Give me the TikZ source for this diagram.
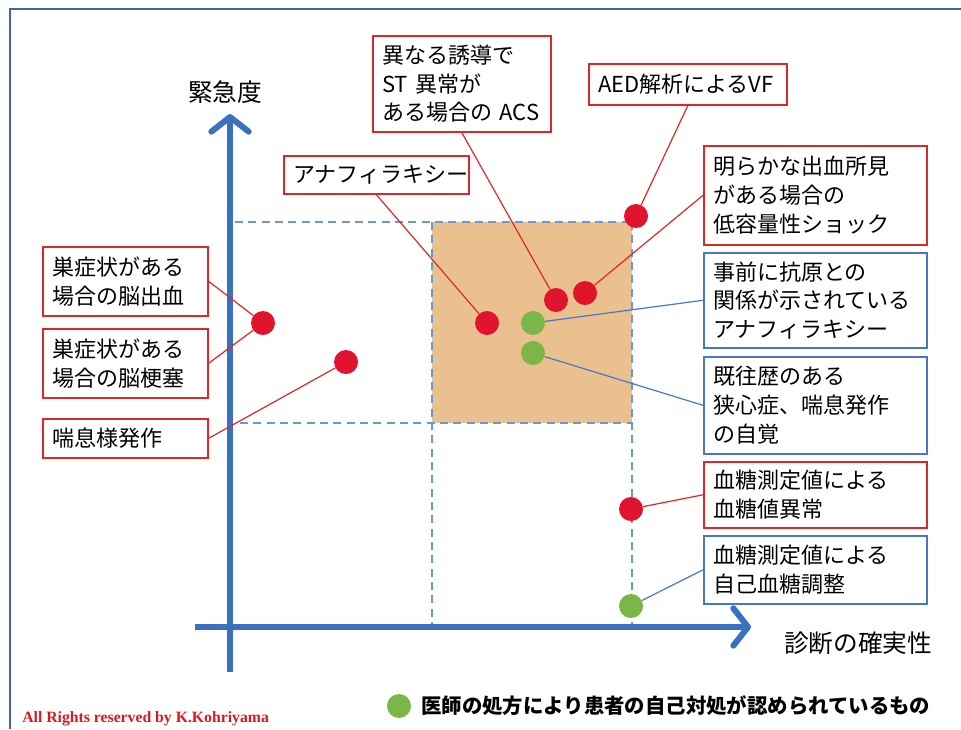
\documentclass[tikz,border=0pt]{standalone}
\usepackage{fontspec}
\setmainfont{Noto Sans CJK JP}
\newfontfamily\latinserif{Liberation Serif}
\usetikzlibrary{arrows.meta}
\definecolor{dotred}{RGB}{225,20,45}
\definecolor{dotgreen}{RGB}{122,182,72}
\definecolor{boxred}{RGB}{222,40,40}
\definecolor{boxblue}{RGB}{70,120,195}
\definecolor{axisblue}{RGB}{58,112,192}
\definecolor{dashblue}{RGB}{105,152,210}
\definecolor{framblue}{RGB}{70,95,175}
\definecolor{tan}{RGB}{234,192,142}
\definecolor{copyred}{RGB}{215,25,35}
\begin{document}
\begin{tikzpicture}[x=0.75pt,y=-0.75pt,
  rbox/.style={draw=boxred, line width=1.2pt, fill=white, anchor=north west,
    align=left, inner xsep=7pt, inner ysep=2pt,
    font=\fontsize{16.5}{21.5}\selectfont},
  bbox/.style={rbox, draw=boxblue},
  rdot/.style={circle, fill=dotred, minimum size=18pt, inner sep=0pt},
  gdot/.style={rdot, fill=dotgreen},
  rline/.style={draw=boxred, line width=0.9pt},
  bline/.style={draw=boxblue, line width=0.9pt},
  axisline/.style={draw=axisblue, line width=4.5pt},
  dashline/.style={draw=dashblue, line width=1.1pt, dash pattern=on 6pt off 4pt},
  axislabel/.style={font=\fontsize{18.5}{22}\selectfont, inner sep=0pt}
]
\useasboundingbox (0,0) rectangle (961,729);
% frame
\draw[framblue, line width=1.1pt] (961,9) -- (10,9) -- (10,729);

% orange region and dashed guides
\fill[tan] (432,222) rectangle (632,423);
\draw[dashline] (235,222) -- (632,222);
\draw[dashline] (240,423) -- (632,423);
\draw[dashline] (432,222) -- (432,624);
\draw[dashline] (632,222) -- (632,624);

% axes
\draw[axisline, -{Straight Barb[length=11pt,width=28pt,line cap=round,line join=round]}] (230,672) -- (230,114);
\draw[axisline, -{Straight Barb[length=11pt,width=28pt,line cap=round,line join=round]}] (195,627) -- (751,627);
\node[axislabel] (ylab) at (225,92) {緊急度};
\node[axislabel] (xlab) at (858,643) {診断の確実性};

% label boxes
\node[rbox, text width=119.5pt, minimum height=72pt] (acs) at (372,35) {異なる誘導で\\ST 異常が\\ある場合の ACS};
\node[rbox, text width=134.5pt, minimum height=30.75pt] (vf) at (588,63) {AED解析によるVF};
\node[rbox, text width=124.75pt, minimum height=28.5pt] (ana) at (283,155) {アナフィラキシー};
\node[rbox, text width=153.25pt, minimum height=74.25pt] (shock) at (703,145) {明らかな出血所見\\がある場合の\\低容量性ショック};
\node[bbox, text width=153.25pt, minimum height=71.25pt] (pre) at (703,252) {事前に抗原との\\関係が示されている\\アナフィラキシー};
\node[bbox, text width=153.25pt, minimum height=72.75pt] (hist) at (703,356) {既往歴のある\\狭心症、喘息発作\\の自覚};
\node[rbox, text width=153.25pt, minimum height=49.5pt] (bs1) at (703,461) {血糖測定値による\\血糖値異常};
\node[bbox, text width=153.25pt, minimum height=51pt] (bs2) at (703,535) {血糖測定値による\\自己血糖調整};
\node[rbox, text width=109.75pt, minimum height=51.75pt] (hem) at (42,246) {巣症状がある\\場合の脳出血};
\node[rbox, text width=109.75pt, minimum height=51.75pt] (inf) at (42,328) {巣症状がある\\場合の脳梗塞};
\node[rbox, text width=109.75pt, minimum height=29.25pt] (asth) at (42,418) {喘息様発作};

% dots
\node[rdot] (d1) at (263,323) {};
\node[rdot] (d2) at (346,362) {};
\node[rdot] (d3) at (487,323) {};
\node[rdot] (d4) at (556,300) {};
\node[rdot] (d5) at (585,293) {};
\node[rdot] (d6) at (636,216) {};
\node[rdot] (d7) at (631,509) {};
\node[gdot] (g1) at (533,323) {};
\node[gdot] (g2) at (533,353) {};
\node[gdot] (g3) at (631,606) {};

% connectors
\draw[rline] (hem.east) -- (d1);
\draw[rline] (inf.east) -- (d1);
\draw[rline] (asth.east) -- (d2);
\draw[rline] (ana.south) -- (d3);
\draw[rline] (acs.south) -- (d4);
\draw[rline] (vf.south) -- (d6);
\draw[rline] (shock.west) -- (d5);
\draw[bline] (pre.west) -- (g1);
\draw[bline] (hist.west) -- (g2);
\draw[rline] (bs1.west) -- (d7);
\draw[bline] (bs2.west) -- (g3);

% legend
\node[gdot] (lg) at (399,706) {};
\node[anchor=west, inner sep=0pt, font=\fontsize{15.3}{18}\selectfont\bfseries] (lgt) at (421,706) {医師の処方により患者の自己対処が認められているもの};
\node[anchor=west, inner sep=0pt, text=copyred, font=\latinserif\bfseries\fontsize{11.8}{13}\selectfont] (copy) at (22,719) {All Rights reserved by K.Kohriyama};
\end{tikzpicture}
\end{document}
